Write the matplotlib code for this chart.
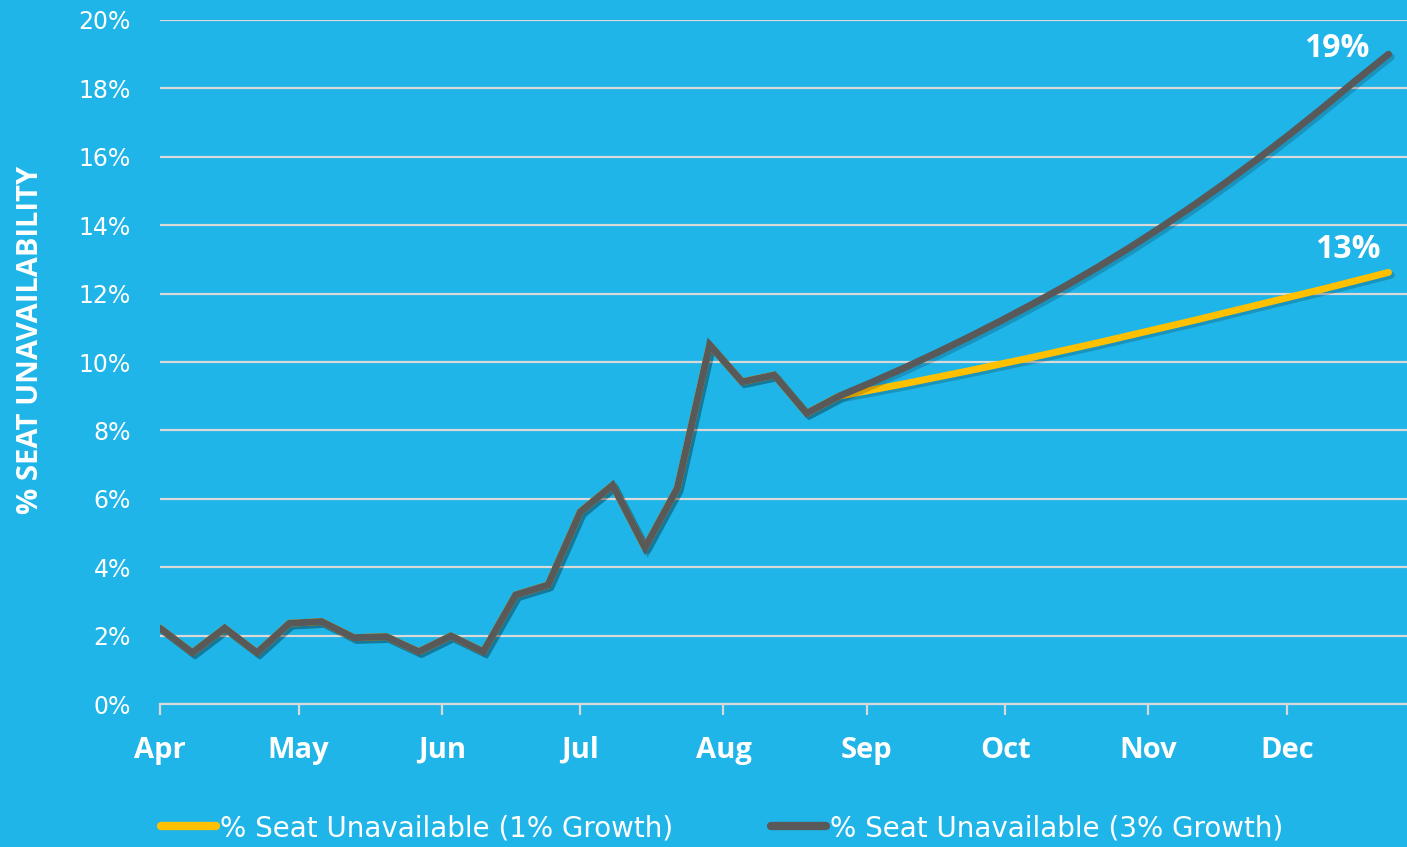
import matplotlib
matplotlib.use("Agg")
import matplotlib.pyplot as plt
import matplotlib.dates as mdates
import matplotlib.patheffects as pe
from matplotlib.lines import Line2D
import pandas as pd

# ---------------- data ----------------
weeks = pd.date_range("2021-04-01", periods=39, freq="7D")

history = [2.22, 1.50, 2.22, 1.50, 2.36, 2.41, 1.94, 1.97, 1.53, 1.99, 1.53,
           3.19, 3.48, 5.62, 6.40, 4.57, 6.31, 10.50, 9.42, 9.62, 8.50]

forecast_1pct = [9.00, 9.18, 9.36, 9.55, 9.74, 9.94, 10.14, 10.35, 10.56,
                 10.78, 11.00, 11.22, 11.45, 11.68, 11.91, 12.14, 12.38, 12.62]

forecast_3pct = [9.00, 9.40, 9.82, 10.26, 10.72, 11.20, 11.70, 12.22, 12.77,
                 13.35, 13.96, 14.60, 15.27, 15.97, 16.70, 17.46, 18.24, 19.00]

series_labels = ["% Seat Unavailable (1% Growth)", "% Seat Unavailable (3% Growth)"]
end_labels = ["13%", "19%"]
y_ticks = [0, 2, 4, 6, 8, 10, 12, 14, 16, 18, 20]
y_label = "% SEAT UNAVAILABILITY"

# ---------------- style ----------------
BG = "#1FB5E8"
YELLOW = "#FFC000"
GREY = "#595959"
GRID = "#D9D9D9"
WHITE = "white"

plt.rcParams["font.family"] = ["Open Sans", "DejaVu Sans"]

fig = plt.figure(figsize=(14.07, 8.47), dpi=100, facecolor=BG)
ax = fig.add_axes([160 / 1407, 143 / 847, 1 - 160 / 1407, 684 / 847])
ax.set_facecolor(BG)

y1 = history + forecast_1pct
y3 = history + forecast_3pct

shadow = [pe.SimpleLineShadow(offset=(2, -2), shadow_color="black", alpha=0.18),
          pe.Normal()]

ax.plot(weeks, y1, color=YELLOW, lw=5, solid_capstyle="round",
        solid_joinstyle="round", path_effects=shadow, zorder=3)
ax.plot(weeks, y3, color=GREY, lw=5, solid_capstyle="round",
        solid_joinstyle="miter", path_effects=shadow, zorder=4)

ax.set_ylim(0, 20)
ax.set_xlim(pd.Timestamp("2021-04-01"), pd.Timestamp("2021-12-27"))
ax.set_yticks(y_ticks)
ax.set_yticklabels([f"{v}%" for v in y_ticks], family="DejaVu Sans")
ax.yaxis.grid(True, color=GRID, lw=1.6)
ax.set_axisbelow(True)

ax.xaxis.set_major_locator(mdates.MonthLocator())
ax.xaxis.set_major_formatter(mdates.DateFormatter("%b"))

for s in ["top", "right", "left"]:
    ax.spines[s].set_visible(False)
ax.spines["bottom"].set_color(GRID)
ax.spines["bottom"].set_linewidth(1.6)

ax.tick_params(axis="y", length=0, pad=21, labelsize=17, labelcolor=WHITE)
ax.tick_params(axis="x", length=8, width=1.6, color=GRID, pad=15,
               labelsize=21, labelcolor=WHITE)
for t in ax.get_xticklabels():
    t.set_fontweight("bold")

fig.text(31 / 1407, 1 - 340 / 847, y_label, rotation=90, ha="center",
         va="center", color=WHITE, fontsize=21, fontweight="bold")

# end labels
ax.annotate(end_labels[1], (weeks[-1], y3[-1]), xytext=(-37.4, -1.7),
            textcoords="offset points", ha="center", va="baseline",
            color=WHITE, fontsize=23, fontweight="bold")
ax.annotate(end_labels[0], (weeks[-1], y1[-1]), xytext=(-29.5, 10.6),
            textcoords="offset points", ha="center", va="baseline",
            color=WHITE, fontsize=23, fontweight="bold")

handles = [Line2D([], [], color=YELLOW, lw=6, solid_capstyle="round"),
           Line2D([], [], color=GREY, lw=6, solid_capstyle="round")]
fig.legend(handles, series_labels, ncol=2, loc="center",
           bbox_to_anchor=(722 / 1407, 19 / 847), frameon=False,
           prop={"family": "DejaVu Sans", "size": 20}, labelcolor=WHITE,
           handlelength=2.0, handletextpad=0.14, columnspacing=3.5)

fig.savefig("out.png", dpi=100, facecolor=BG)
